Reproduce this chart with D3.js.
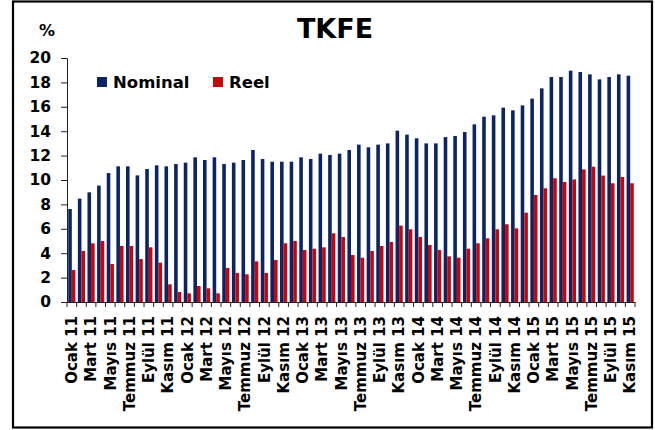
<!DOCTYPE html>
<html lang="tr">
<head>
    <meta charset="UTF-8">
    <title>TKFE</title>
    <script src="https://d3js.org/d3.v7.min.js"></script>
    <style>
        body {
            margin: 0;
            background: #fff;
            font-family: "DejaVu Sans", Verdana, sans-serif;
        }
        svg {
            display: block;
        }
    </style>
</head>
<body>
    <svg id="chart" width="655" height="430"></svg>
    <script>
        const monthNames = ["Ocak", "Şubat", "Mart", "Nisan", "Mayıs", "Haziran",
            "Temmuz", "Ağustos", "Eylül", "Ekim", "Kasım", "Aralık"];
        const years = ["11", "12", "13", "14", "15"];

        // monthly categories Ocak 11 .. Kasım 15
        const months = [];
        years.forEach(y => monthNames.forEach(m => months.push(m + " " + y)));
        months.splice(59);

        const seriesNames = ["Nominal", "Reel"];

        const nominal = [7.62, 8.47, 8.99, 9.54, 10.57, 11.12, 11.12, 10.38, 10.9, 11.2,
            11.12, 11.31, 11.42, 11.86, 11.64, 11.86, 11.31, 11.42, 11.64, 12.46,
            11.72, 11.5, 11.5, 11.5, 11.86, 11.72, 12.16, 12.05, 12.16, 12.46,
            12.9, 12.68, 12.9, 13.0, 14.04, 13.72, 13.42, 13.0, 13.0, 13.52,
            13.61, 13.93, 14.56, 15.19, 15.3, 15.93, 15.71, 16.12, 16.67, 17.51,
            18.44, 18.44, 18.96, 18.85, 18.66, 18.25, 18.44, 18.66, 18.55];

        const reel = [2.62, 4.18, 4.81, 5.0, 3.11, 4.59, 4.59, 3.52, 4.48, 3.22,
            1.45, 0.82, 0.71, 1.31, 1.12, 0.71, 2.79, 2.38, 2.27, 3.33,
            2.38, 3.44, 4.81, 5.0, 4.26, 4.37, 4.48, 5.63, 5.33, 3.85,
            3.63, 4.18, 4.59, 4.92, 6.26, 5.96, 5.33, 4.67, 4.26, 3.74,
            3.63, 4.37, 4.81, 5.22, 5.96, 6.37, 6.04, 7.32, 8.77, 9.32,
            10.14, 9.84, 10.05, 10.87, 11.09, 10.36, 9.73, 10.25, 9.73];

        const yTicks = [0, 2, 4, 6, 8, 10, 12, 14, 16, 18, 20];

        const colors = { Nominal: "#0b2466", Reel: "#c8040c" };

        const data = months.map((m, i) => ({ month: m, Nominal: nominal[i], Reel: reel[i] }));

        const svg = d3.select("#chart");
        const margin = { top: 58, right: 20, bottom: 128, left: 67 };
        const width = 655, height = 430;

        // frame
        svg.append("rect")
            .attr("x", 13).attr("y", 1.5)
            .attr("width", 639).attr("height", 426)
            .attr("fill", "none")
            .attr("stroke", "#000")
            .attr("stroke-width", 2.2);

        const x = d3.scaleBand()
            .domain(months)
            .range([margin.left, width - margin.right])
            .padding(0);

        const xs = d3.scaleBand()
            .domain(seriesNames)
            .range([0, x.bandwidth()])
            .paddingInner(0)
            .paddingOuter(0.34);

        const y = d3.scaleLinear()
            .domain([0, 20])
            .range([height - margin.bottom, margin.top]);

        // bars
        const groups = svg.append("g")
            .selectAll("g")
            .data(data)
            .join("g")
            .attr("transform", d => `translate(${x(d.month)},0)`);

        groups.selectAll("rect")
            .data(d => seriesNames.map(s => ({ key: s, value: d[s] })))
            .join("rect")
            .attr("x", d => xs(d.key))
            .attr("y", d => y(d.value))
            .attr("width", xs.bandwidth())
            .attr("height", d => y(0) - y(d.value))
            .attr("fill", d => colors[d.key]);

        // y axis
        const yAxis = svg.append("g")
            .attr("transform", `translate(${margin.left},0)`)
            .call(d3.axisLeft(y).tickValues(yTicks).tickSize(6).tickPadding(10).tickSizeOuter(6));
        yAxis.selectAll("text")
            .attr("font-family", "DejaVu Sans, Verdana, sans-serif")
            .attr("font-size", 15.5)
            .attr("font-weight", "bold")
            .attr("fill", "#000");
        yAxis.selectAll("line, path").attr("stroke", "#222");

        // x axis: labels every second month, ticks between categories
        const xAxis = svg.append("g")
            .attr("transform", `translate(0,${y(0)})`)
            .call(d3.axisBottom(x)
                .tickValues(months.filter((m, i) => i % 2 === 0))
                .tickSize(0)
                .tickSizeOuter(0));
        xAxis.select(".domain").attr("stroke", "#222");
        xAxis.selectAll("text")
            .attr("font-family", "DejaVu Sans, Verdana, sans-serif")
            .attr("font-size", 15)
            .attr("font-weight", "bold")
            .attr("fill", "#000")
            .attr("text-anchor", "end")
            .attr("transform", "rotate(-90)")
            .attr("x", -14)
            .attr("y", 0)
            .attr("dy", "0.35em");

        xAxis.selectAll(".sep")
            .data(months.concat(["end"]))
            .join("line")
            .attr("class", "sep")
            .attr("x1", (d, i) => i < months.length ? x(d) : x.range()[1])
            .attr("x2", (d, i) => i < months.length ? x(d) : x.range()[1])
            .attr("y1", 0)
            .attr("y2", 5)
            .attr("stroke", "#222");

        // title and unit
        svg.append("text")
            .attr("x", 335).attr("y", 38)
            .attr("text-anchor", "middle")
            .attr("font-size", 27)
            .attr("font-weight", "bold")
            .text("TKFE");

        svg.append("text")
            .attr("x", 47).attr("y", 36)
            .attr("text-anchor", "middle")
            .attr("font-size", 16)
            .attr("font-weight", "bold")
            .text("%");

        // legend
        const legend = svg.append("g")
            .selectAll("g")
            .data(seriesNames)
            .join("g")
            .attr("transform", (d, i) => `translate(${i === 0 ? 97 : 213},77)`);
        legend.append("rect")
            .attr("width", 10).attr("height", 10)
            .attr("fill", d => colors[d]);
        legend.append("text")
            .attr("x", 16).attr("y", 10.5)
            .attr("font-size", 16.5)
            .attr("font-weight", "bold")
            .text(d => d);
    </script>
</body>
</html>
